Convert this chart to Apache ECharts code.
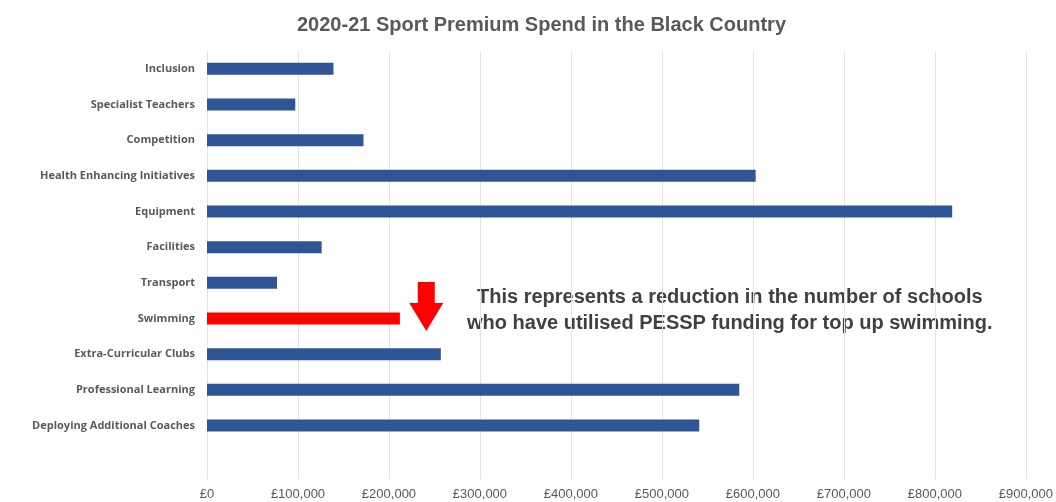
<!DOCTYPE html>
<html><head><meta charset="utf-8">
<script src="https://cdn.jsdelivr.net/npm/echarts@6/dist/echarts.min.js"></script>
<style>html,body{margin:0;padding:0;background:#fff}#c{width:1056px;height:502px}</style>
</head><body><div id="c"></div>
<script>
const categories = ["Inclusion","Specialist Teachers","Competition","Health Enhancing Initiatives","Equipment","Facilities","Transport","Swimming","Extra-Curricular Clubs","Professional Learning","Deploying Additional Coaches"];
const values = [139000,97000,172000,603000,819000,126000,77000,212000,257000,585000,541000];
const highlight = "Swimming";
const xTicks = {min:0, max:900000, interval:100000};
const note = "This represents a reduction in the number of schools\nwho have utilised PESSP funding for top up swimming.";
const arrowAt = 241000;

const chart = echarts.init(document.getElementById('c'));
const F = "'Liberation Sans', Arial, sans-serif";
chart.setOption({
  animation:false,
  title:{text:"2020-21 Sport Premium Spend in the Black Country", left:292, top:10,
    textStyle:{fontFamily:F, fontSize:20, fontWeight:'bold', color:'#595959'}},
  grid:{left:207, right:30, top:51, height:428},
  xAxis:{type:'value', min:xTicks.min, max:xTicks.max, interval:xTicks.interval,
    axisLine:{show:false}, axisTick:{show:false},
    splitLine:{lineStyle:{color:'#e3e3e3', width:1}},
    axisLabel:{margin:9, fontFamily:F, fontSize:13, color:'#595959',
      formatter:v=>'£'+v.toLocaleString('en-GB')}},
  yAxis:{type:'category', data:categories, inverse:true, min:0, max:categories.length,
    axisLine:{show:false}, axisTick:{show:false},
    axisLabel:{margin:12, fontFamily:"'Open Sans', Arial, sans-serif", fontSize:11, fontWeight:'bold', color:'#595959'}},
  series:[{type:'bar', barWidth:12,
    data: values.map((v,i)=>({value:v, itemStyle:{color: categories[i]===highlight ? '#FF0000' : '#2F5597'}})),
    markPoint:{silent:true, symbol:'path://M8.5,0 L25.5,0 L25.5,21 L34,21 L17,49 L0,21 L8.5,21 Z',
      symbolSize:[34,49], symbolKeepAspect:false, symbolOffset:[0,-12],
      itemStyle:{color:'#FF0000'}, label:{show:false},
      data:[{coord:[arrowAt, highlight]}]}
  }],
  graphic:[{type:'text', left:467, top:284,
    style:{text:note, fontFamily:F, fontSize:20, fontWeight:'bold', fill:'#404040', textAlign:'center', lineHeight:26}}]
});
</script></body></html>
